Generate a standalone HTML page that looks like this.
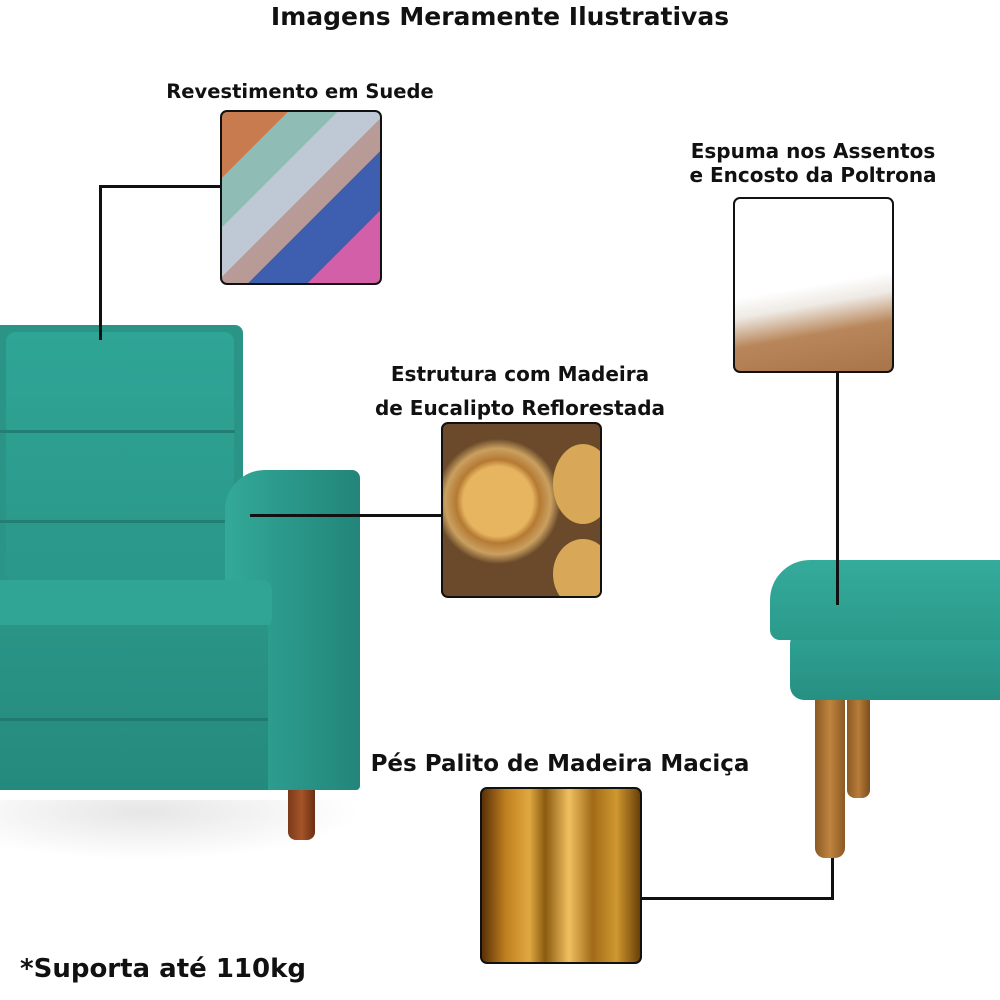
<!DOCTYPE html>
<html><head><meta charset="utf-8"><style>
*{margin:0;padding:0;box-sizing:border-box}
body{width:1000px;height:1000px;background:#fff;position:relative;overflow:hidden;font-family:"DejaVu Sans","Liberation Sans",sans-serif;font-weight:bold;color:#111}
.t{position:absolute;white-space:nowrap;text-align:center}
.a{position:absolute}
.img{position:absolute;border:2px solid #111;border-radius:7px;overflow:hidden}
.l{position:absolute;background:#111}
.teal{background:#2c9d8f}
</style></head><body>
<div class="t" style="left:0;width:1000px;top:2px;font-size:25px">Imagens Meramente Ilustrativas</div>
<div class="t" style="left:150px;width:300px;top:80px;font-size:19.5px">Revestimento em Suede</div>
<div class="t" style="left:663px;width:300px;top:139px;font-size:20px;line-height:24px">Espuma nos Assentos<br>e Encosto da Poltrona</div>
<div class="t" style="left:360px;width:320px;top:357px;font-size:20px;line-height:34px">Estrutura com Madeira<br>de Eucalipto Reflorestada</div>
<div class="t" style="left:360px;width:400px;top:751px;font-size:23px">Pés Palito de Madeira Maciça</div>
<div class="t" style="left:20px;top:954px;font-size:26px;text-align:left">*Suporta até 110kg</div>

<!-- armchair -->
<div class="a" style="left:0;top:800px;width:360px;height:60px;background:radial-gradient(ellipse at 40% 20%,#e6e6e6,#fff 70%)"></div>
<div class="a" style="left:0;top:325px;width:243px;height:265px;border-radius:0 8px 0 0;background:#2a9486"></div>
<div class="a" style="left:6px;top:332px;width:228px;height:250px;border-radius:10px;background:linear-gradient(#2fa596,#2a978a)"></div>
<div class="a" style="left:0;top:430px;width:235px;height:3px;background:#237f73"></div>
<div class="a" style="left:0;top:520px;width:235px;height:3px;background:#237f73"></div>
<div class="a" style="left:225px;top:470px;width:135px;height:320px;border-radius:40px 8px 4px 4px;background:linear-gradient(90deg,#34a999,#2b9a8c 40%,#23857a)"></div>
<div class="a" style="left:0;top:580px;width:272px;height:48px;border-radius:0 10px 10px 0;background:#30a596"></div>
<div class="a" style="left:0;top:625px;width:268px;height:165px;background:linear-gradient(#2a9487,#258a7e)"></div>
<div class="a" style="left:0;top:718px;width:268px;height:3px;background:#1f7a70"></div>
<div class="a" style="left:288px;top:790px;width:27px;height:50px;border-radius:0 0 8px 8px;background:linear-gradient(90deg,#7a3a1a,#a55428,#6a2e12)"></div>

<!-- ottoman -->
<div class="a" style="left:815px;top:695px;width:30px;height:163px;border-radius:0 0 10px 10px;background:linear-gradient(90deg,#8a5a24,#c08440,#8a5a24)"></div>
<div class="a" style="left:847px;top:695px;width:23px;height:103px;border-radius:0 0 8px 8px;background:linear-gradient(90deg,#8a5a24,#b87c3a,#7a4e1e)"></div>
<div class="a" style="left:790px;top:630px;width:210px;height:70px;border-radius:14px 0 0 14px;background:linear-gradient(#2fa394,#268f82)"></div>
<div class="a" style="left:770px;top:560px;width:230px;height:80px;border-radius:40px 0 0 10px;background:linear-gradient(#35ab9b,#2a9a8b)"></div>

<!-- images -->
<div class="img" style="left:220px;top:110px;width:162px;height:175px;background:linear-gradient(135deg,#c97b50 0 20%,#8fbdb6 20% 35%,#bfc9d6 35% 50%,#b89a96 50% 60%,#3e5fb0 60% 78%,#d25fa8 78%)"></div>
<div class="img" style="left:733px;top:197px;width:161px;height:176px;background:linear-gradient(170deg,#fff 0 50%,#eeeae4 60%,#b8865a 75%,#a8744a)"></div>
<div class="img" style="left:441px;top:422px;width:161px;height:176px;background:radial-gradient(circle at 35% 45%,#e7b560 0 25%,#b57a34 30%,#caa060 38%,#6a4a2a 45%),#6a4a2a"><div class="a" style="left:110px;top:20px;width:60px;height:80px;border-radius:50%;background:#d8a858"></div><div class="a" style="left:110px;top:115px;width:60px;height:70px;border-radius:50%;background:#d8a858"></div></div>
<div class="img" style="left:480px;top:787px;width:162px;height:177px;background:linear-gradient(90deg,#5a3008,#c08020 15%,#e0a840 30%,#8a5a10 40%,#f0c060 55%,#a06a18 70%,#d09830 85%,#6a4008)"></div>

<!-- lines -->
<div class="l" style="left:99px;top:185px;width:3px;height:155px"></div>
<div class="l" style="left:99px;top:185px;width:121px;height:3px"></div>
<div class="l" style="left:250px;top:514px;width:191px;height:3px"></div>
<div class="l" style="left:836px;top:373px;width:3px;height:232px"></div>
<div class="l" style="left:642px;top:897px;width:192px;height:3px"></div>
<div class="l" style="left:831px;top:858px;width:3px;height:42px"></div>
</body></html>
